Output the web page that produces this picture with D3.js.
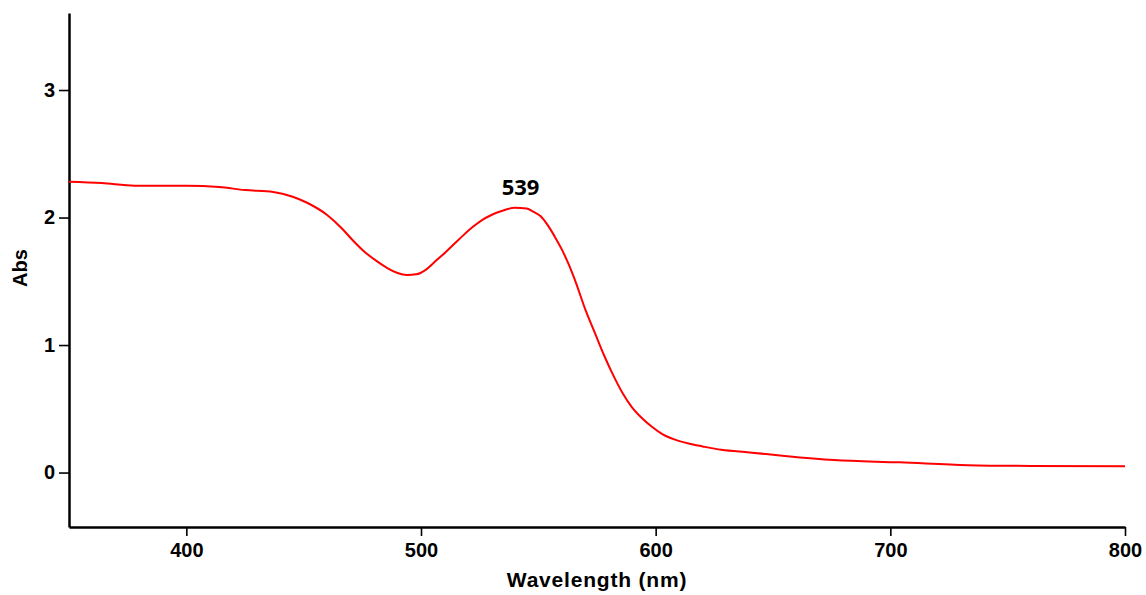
<!DOCTYPE html>
<html>
<head>
<meta charset="utf-8">
<script src="https://cdn.jsdelivr.net/npm/d3@7"></script>
<style>
  body { margin: 0; background: #fff; }
  .axis text { font-family: "Liberation Sans", Arial, sans-serif; font-weight: bold; font-size: 20px; fill: #000; }
  .axis path, .axis line { stroke: #000; }
</style>
</head>
<body>
<div id="chart"></div>
<script>
// spectrum
var wavelength = [350, 364, 378, 400, 414, 425, 437, 445, 451, 460, 466, 471, 476, 481, 486, 490,
  494, 498, 502, 506, 510, 514, 518, 522, 526, 530, 535, 540, 545, 548, 551, 554, 557, 560, 563,
  566, 570, 574, 578, 582, 586, 590, 594, 598, 603, 608, 614, 620, 628, 640, 655, 676, 704, 733,
  760, 800];
var absorbance = [2.28, 2.27, 2.25, 2.25, 2.24, 2.215, 2.20, 2.165, 2.12, 2.02, 1.92, 1.82, 1.73,
  1.66, 1.60, 1.565, 1.55, 1.555, 1.59, 1.655, 1.72, 1.79, 1.86, 1.925, 1.98, 2.02, 2.055, 2.077,
  2.07, 2.045, 2.01, 1.94, 1.85, 1.75, 1.63, 1.49, 1.28, 1.10, 0.92, 0.76, 0.62, 0.51, 0.43, 0.365,
  0.30, 0.26, 0.228, 0.205, 0.178, 0.158, 0.13, 0.098, 0.08, 0.058, 0.052, 0.05];
var xTicks = [400, 500, 600, 700, 800];
var yTicks = [0, 1, 2, 3];
var peakLabel = {x: 539, y: 2.077, text: "539"};

var svgWidth = 1146, svgHeight = 595;
var margin = {top: 13, right: 21, bottom: 68, left: 69},
    width = svgWidth - margin.left - margin.right,
    height = svgHeight - margin.top - margin.bottom;

var data = wavelength.map((w, i) => ({x: w, y: absorbance[i]}));

var svg = d3.select("#chart").append("svg")
    .attr("width", svgWidth)
    .attr("height", svgHeight);

var g = svg.append("g")
    .attr("transform", `translate(${margin.left}, ${margin.top})`);

var x = d3.scaleLinear().domain([350, 800]).range([0, width]);
var y = d3.scaleLinear().domain([-0.427, 3.604]).range([height, 0]);

// axes
g.append("g")
    .attr("class", "x axis")
    .attr("transform", `translate(0, ${height})`)
    .call(d3.axisBottom(x).tickValues(xTicks).tickSize(9).tickSizeOuter(0).tickPadding(7))
    .call(a => a.select(".domain").attr("stroke-width", 2.5))
    .call(a => a.selectAll(".tick line").attr("stroke-width", 1.6));

g.append("g")
    .attr("class", "y axis")
    .call(d3.axisLeft(y).tickValues(yTicks).tickFormat(d3.format("d")).tickSize(10).tickSizeOuter(0).tickPadding(4))
    .call(a => a.select(".domain").attr("stroke-width", 2.5))
    .call(a => a.selectAll(".tick line").attr("stroke-width", 1.6));

// spectrum
g.append("path")
    .datum(data)
    .attr("fill", "none")
    .attr("stroke", "#ff0000")
    .attr("stroke-width", 2)
    .attr("d", d3.line()
        .x(d => x(d.x))
        .y(d => y(d.y))
        .curve(d3.curveMonotoneX));

// peak label
g.append("text")
    .attr("x", x(peakLabel.x) + 8)
    .attr("y", y(peakLabel.y) - 13)
    .style("text-anchor", "middle")
    .style("font-family", "'Open Sans', 'Noto Sans', sans-serif")
    .style("font-weight", "bold")
    .style("font-size", "22px")
    .text(peakLabel.text);

// axis titles
svg.append("text")
    .attr("x", margin.left + width / 2)
    .attr("y", 587)
    .style("text-anchor", "middle")
    .style("font-family", "'Liberation Sans', Arial, sans-serif")
    .style("font-weight", "bold")
    .style("font-size", "21px")
    .style("letter-spacing", "0.8px")
    .text("Wavelength (nm)");

svg.append("text")
    .attr("transform", "translate(27, 268) rotate(-90)")
    .style("text-anchor", "middle")
    .style("font-family", "'Liberation Sans', Arial, sans-serif")
    .style("font-weight", "bold")
    .style("font-size", "20px")
    .text("Abs");
</script>
</body>
</html>
